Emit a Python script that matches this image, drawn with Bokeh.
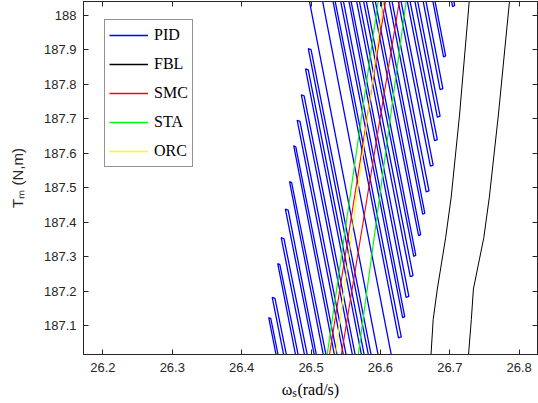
import math
from bokeh.plotting import figure
from bokeh.models import (Range1d, FixedTicker, LinearAxis, CustomJSTickFormatter,
                          Legend, LegendItem)
from bokeh.embed import file_html
from bokeh.resources import INLINE

# ---------------- data ----------------
x_ticks = [26.2, 26.3, 26.4, 26.5, 26.6, 26.7, 26.8]
y_ticks = [187.1, 187.2, 187.3, 187.4, 187.5, 187.6, 187.7, 187.8, 187.9, 188.0]

PID_x = [26.454, 26.439, 26.442, 26.457,
         26.465, 26.444, 26.448, 26.469,
         26.482, 26.452, 26.455, 26.486,
         26.495, 26.457, 26.461, 26.499,
         26.509, 26.463, 26.467, 26.512,
         26.522, 26.469, 26.472, 26.526,
         26.538, 26.475, 26.478, 26.542,
         26.551, 26.480, 26.484, 26.555,
         26.564, 26.486, 26.490, 26.568,
         26.577, 26.492, 26.496, 26.581,
         26.587, 26.496, 26.500, 26.591,
         26.601, 26.492,
         26.526, 26.626, 26.630, 26.529,
         26.537, 26.632, 26.635, 26.541,
         26.549, 26.637, 26.641, 26.552,
         26.560, 26.643, 26.647, 26.564,
         26.570, 26.648, 26.651, 26.574,
         26.583, 26.655, 26.658, 26.587,
         26.595, 26.661, 26.664, 26.599,
         26.607, 26.666, 26.670, 26.611,
         26.620, 26.672, 26.676, 26.624,
         26.633, 26.678, 26.682, 26.637,
         26.644, 26.682, 26.686, 26.648,
         26.656, 26.686, 26.690, 26.660,
         26.670, 26.691, 26.694, 26.673,
         26.697, 26.704, 26.707, 26.701,
         26.511, 26.620]
PID_y = [186.97, 187.123, 187.120, 186.97,
         186.97, 187.182, 187.179, 186.97,
         186.97, 187.280, 187.277, 186.97,
         186.97, 187.355, 187.352, 186.97,
         186.97, 187.438, 187.435, 186.97,
         186.97, 187.518, 187.515, 186.97,
         186.97, 187.622, 187.619, 186.97,
         186.97, 187.696, 187.693, 186.97,
         186.97, 187.770, 187.767, 186.97,
         186.97, 187.845, 187.842, 186.97,
         186.97, 187.904, 187.901, 186.97,
         186.97, 188.10,
         188.10, 187.064, 187.067, 188.10,
         188.10, 187.123, 187.126, 188.10,
         188.10, 187.182, 187.185, 188.10,
         188.10, 187.242, 187.245, 188.10,
         188.10, 187.301, 187.304, 188.10,
         188.10, 187.361, 187.364, 188.10,
         188.10, 187.423, 187.426, 188.10,
         188.10, 187.488, 187.491, 188.10,
         188.10, 187.563, 187.566, 188.10,
         188.10, 187.637, 187.640, 188.10,
         188.10, 187.705, 187.708, 188.10,
         188.10, 187.785, 187.788, 188.10,
         188.10, 187.880, 187.883, 188.10,
         188.10, 188.026, 188.029, 188.10,
         188.10, 186.97]

FBL_x = [26.6715, 26.676, 26.682, 26.694, 26.702, 26.714, 26.728, 26.731,
         26.789, 26.786, 26.770, 26.757, 26.749, 26.734, 26.731, 26.727, 26.726]
FBL_y = [186.97, 187.117, 187.206, 187.355, 187.473, 187.711, 188.041, 188.10,
         188.10, 188.041, 187.711, 187.473, 187.355, 187.206, 187.117, 187.016, 186.97]

SMC_x = [26.523, 26.612, 26.632, 26.540]
SMC_y = [186.97, 188.10, 188.10, 186.97]

STA_x = [26.520, 26.601, 26.641, 26.565]
STA_y = [186.97, 188.10, 188.10, 186.97]

ORC_x = [26.532, 26.608]
ORC_y = [186.97, 188.10]

series_names = ["PID", "FBL", "SMC", "STA", "ORC"]
series_colors = ["#0000ff", "#000000", "#ff0000", "#00ff00", "#ffff00"]

x_title = "\u03c9\u209b(rad/s)"
y_title = "T\u2098 (N,m)"

# ---------------- figure ----------------
AX = "#262626"
p = figure(width=538, height=403, output_backend="svg", toolbar_location=None,
           x_range=Range1d(26.172, 26.8264), y_range=Range1d(187.016, 188.0407),
           min_border_left=83, min_border_right=1, min_border_top=1, min_border_bottom=49)
p.grid.visible = False
p.outline_line_color = AX
p.outline_line_width = 1
p.background_fill_color = "white"

series = [(PID_x, PID_y, 1.3), (FBL_x, FBL_y, 1.0), (SMC_x, SMC_y, 1.1),
          (STA_x, STA_y, 1.2), (ORC_x, ORC_y, 1.1)]
for (xs, ys, w), c in zip(series, series_colors):
    p.line(xs, ys, line_color=c, line_width=w)

# legend swatches: one-point proxies (draw nothing in the frame)
items = []
for (xs, ys, w), name, c in zip(series, series_names, series_colors):
    proxy = p.line(x=xs[:1], y=ys[:1], line_color=c, line_width=1.5)
    items.append(LegendItem(label=name, renderers=[proxy]))

fmt = CustomJSTickFormatter(code="return tick.toFixed(1).replace(/\\.0$/, '');")
for ax, ticks in ((p.xaxis[0], x_ticks), (p.yaxis[0], y_ticks)):
    ax.ticker = FixedTicker(ticks=ticks)
    ax.formatter = fmt
    ax.major_tick_in = 5
    ax.major_tick_out = 0
    ax.minor_tick_line_color = None
    ax.axis_line_color = AX
    ax.major_tick_line_color = AX
    ax.major_label_text_font = "Liberation Sans"
    ax.major_label_text_font_size = "13px"
    ax.major_label_text_color = AX
p.xaxis.major_label_standoff = 8
p.yaxis.major_label_standoff = 7

p.xaxis.axis_label = x_title
p.xaxis.axis_label_text_font = "Liberation Serif"
p.xaxis.axis_label_text_font_size = "16px"
p.xaxis.axis_label_text_font_style = "normal"
p.xaxis.axis_label_text_color = "#000000"
p.xaxis.axis_label_standoff = 6

p.yaxis.axis_label = y_title
p.yaxis.axis_label_text_font = "Liberation Sans"
p.yaxis.axis_label_text_font_size = "15px"
p.yaxis.axis_label_text_font_style = "normal"
p.yaxis.axis_label_text_color = AX
p.yaxis.axis_label_standoff = 15

empty = CustomJSTickFormatter(code="return '';")
top = LinearAxis(ticker=FixedTicker(ticks=x_ticks), formatter=empty, major_tick_in=5,
                 major_tick_out=0, minor_tick_line_color=None, axis_line_color=AX,
                 major_tick_line_color=AX, major_label_standoff=0, axis_label_standoff=0)
right = LinearAxis(ticker=FixedTicker(ticks=y_ticks), formatter=empty, major_tick_in=5,
                   major_tick_out=0, minor_tick_line_color=None, axis_line_color=AX,
                   major_tick_line_color=AX, major_label_standoff=0, axis_label_standoff=0)
p.add_layout(top, "above")
p.add_layout(right, "right")

lg = Legend(items=items, location=(21, 187))
lg.label_text_font = "Liberation Serif"
lg.label_text_font_size = "16px"
lg.label_text_color = "#000000"
lg.glyph_width = 39
lg.glyph_height = 22
lg.label_height = 22
lg.label_standoff = 6
lg.padding = 4
lg.spacing = 7
lg.margin = 0
lg.border_line_color = AX
lg.border_line_width = 1
lg.background_fill_alpha = 1.0
p.add_layout(lg)

open("out.html", "w").write(file_html(p, INLINE))
